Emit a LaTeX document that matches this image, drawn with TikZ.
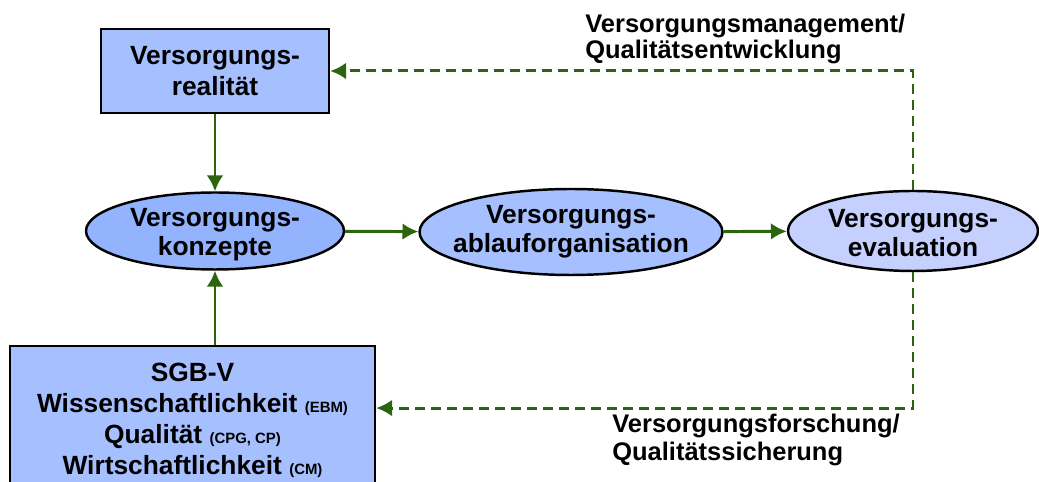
\documentclass[tikz,border=0pt]{standalone}
\usepackage{fontspec}
\setmainfont{Liberation Sans}
\usetikzlibrary{arrows.meta,shapes.geometric}

\definecolor{boxblau}{RGB}{166,192,255}
\definecolor{konzblau}{RGB}{147,179,255}
\definecolor{evalblau}{RGB}{198,208,255}
\definecolor{gruen}{RGB}{45,100,15}

\begin{document}
\begin{tikzpicture}[x=0.02cm,y=-0.02cm,
kasten/.style={rectangle,draw,line width=1.4pt,fill=boxblau,inner sep=2pt,align=center,
  font=\fontsize{15}{18}\selectfont\bfseries},
oval/.style={ellipse,draw,line width=1.4pt,inner sep=0pt},
innen/.style={align=center,inner sep=0pt,font=\fontsize{15}{16.5}\selectfont\bfseries},
pfad/.style={-{Latex[length=9pt,width=9.5pt]},line width=1.7pt,draw=gruen},
rueck/.style={pfad,dash pattern=on 5.7pt off 3.4pt},
beschrift/.style={anchor=north west,inner sep=0pt,align=left,
  font=\fontsize{14.5}{14.8}\selectfont\bfseries}
]
\clip (0,0) rectangle (1039,482);

%% Knoten   %%%%%%%%%%%%%%%%%%%%%%%%%%%%%%%%%%%%%%%%%%%%%%%%%%%%%%%%%%%%%%%%%%%%%%%

%% Kaesten
\node [kasten,minimum width=4.56cm,minimum height=1.68cm] (REAL) at (215,71)
  {Versorgungs-\\realität};
\node [kasten,minimum width=7.3cm,minimum height=2.96cm,font=\fontsize{15}{17.6}\selectfont\bfseries]
  (SGB) at (192.5,420)
  {SGB-V\\
   Wissenschaftlichkeit {\fontsize{8.5}{10}\selectfont (EBM)}\\
   Qualität {\fontsize{8.5}{10}\selectfont (CPG, CP)}\\
   Wirtschaftlichkeit {\fontsize{8.5}{10}\selectfont (CM)}};

%% Ellipsen
\node [oval,fill=konzblau,minimum width=5.16cm,minimum height=1.54cm,
  label={[innen,yshift=-2pt]center:Versorgungs-\\konzepte}] (KONZ) at (215,231) {};
\node [oval,fill=boxblau,minimum width=6.06cm,minimum height=1.72cm,
  label={[innen]center:Versorgungs-\\ablauforganisation}] (ABL) at (571,232) {};
\node [oval,fill=evalblau,minimum width=5.0cm,minimum height=1.6cm,
  label={[innen,yshift=-1pt]center:Versorgungs-\\evaluation}] (EVAL) at (913,231) {};

%% Beschriftungen
\node [beschrift] (MGMT) at (585,14) {Versorgungsmanagement/\\Qualitätsentwicklung};
\node [beschrift,font=\fontsize{14.5}{16}\selectfont\bfseries] (FORS) at (612,414)
  {Versorgungsforschung/\\Qualitätssicherung};

%% Pfade %%%%%%%%%%%%%%%%%%%%%%%%%%%%%%%%%%%%%%%%%%%%%%%%%%%%%%%%%%%%%%%%%%%%%%%%%%%

%% Hauptkette
\draw [pfad] (REAL) to (KONZ);
\draw [pfad] (KONZ.south |- SGB.north) to (KONZ.south);
\draw [pfad] (KONZ) to (ABL);
\draw [pfad] (ABL) to (EVAL);

%% Rueckkopplung
\draw [rueck] (EVAL.north) |- (REAL.east);
\draw [rueck] (EVAL.south) |- ([yshift=6.8pt]SGB.east);

\end{tikzpicture}
\end{document}
